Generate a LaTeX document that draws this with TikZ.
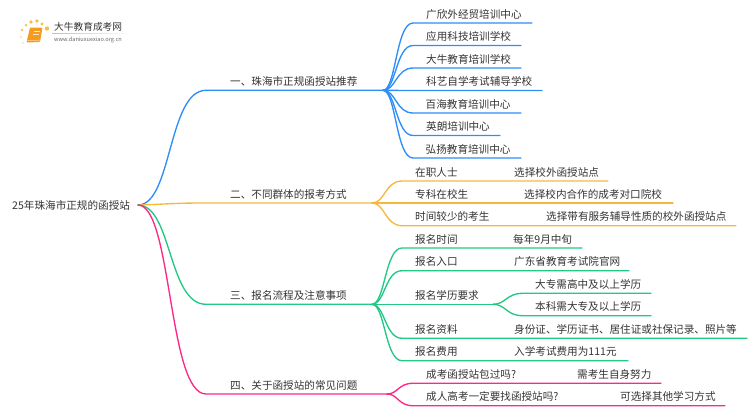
\documentclass[tikz,border=0pt]{standalone}
\usepackage{fontspec}
\setmainfont{Noto Sans CJK SC}
\usetikzlibrary{calc}
\definecolor{cblue}{HTML}{2C8EF8}
\definecolor{corange}{HTML}{F6B83C}
\definecolor{cgreen}{HTML}{22C985}
\definecolor{cpink}{HTML}{FB2A86}
\definecolor{ctext}{HTML}{333333}
\definecolor{cbook}{HTML}{F59C20}
\newcommand{\lf}[4]{\node[lab] (#1) at (#2,#3-5) {#4};}
\newcommand{\rail}[4]{\coordinate (#1L) at (#2,#4); \coordinate (#1R) at (#3,#4);}
\tikzset{
  lab/.style={anchor=base west,inner sep=0pt,text=ctext,font=\fontsize{10.6pt}{12pt}\selectfont},
  conn/.style={line width=1.35pt,line cap=round,line join=round}
}
\begin{document}
\begin{tikzpicture}[x=1pt,y=-1pt]
\useasboundingbox (0,0) rectangle (750,410);
% logo
\foreach \a/\b/\r/\c in {22/30/1.3/F8C75A,26/25/1.5/F8C75A,31/22/1.8/F7BE45,37/21/1.9/F7BE45,42/24/1.7/F7BE45,47/28.5/2.2/F7BE45,21/37/1/FAD98C,23/43/.9/FAD98C}{
  \definecolor{dd}{HTML}{\c}\fill[dd] (\a,\b) circle (\r);}
\fill[rounded corners=1pt,fill=cbook] (30,27.5) -- (42.5,27.5) -- (40,42) -- (26.5,42.5) -- cycle;
\draw[white!80!cbook,line width=.6pt] (33.5,31.5) -- (39.5,31.5) (33,34.5) -- (39,34.5);
\draw[white!60!cbook,line width=.5pt] (27.5,40.5) -- (40,40.2);
\node[anchor=base west,inner sep=0pt,text=ctext,font=\fontsize{9.7pt}{11pt}\selectfont] (logotitle) at (54,30.5) {大牛教育成考网};
\node[anchor=base west,inner sep=0pt,text=black!60,font=\fontsize{5.6pt}{7pt}\selectfont] (logourl) at (54,41) {www.daniuxuexiao.org.cn};
\shade[left color=black!25,right color=white,draw=none] (52,33) rectangle (133,33.6);
% root
\node[lab] (root) at (12,209) {25年珠海市正规的函授站};
\coordinate (o) at (138,205);
% branches
\lf{b1}{230}{90}{一、珠海市正规函授站推荐}
\lf{b2}{230}{203}{二、不同群体的报考方式}
\lf{b3}{230}{304}{三、报名流程及注意事项}
\lf{b4}{230}{394}{四、关于函授站的常见问题}
\coordinate (j1) at (383,90.3);
\coordinate (j2) at (372,203);
\coordinate (j3) at (372,304.3);
\coordinate (j4) at (387,394);
\coordinate (j5) at (493,304.3);
\draw[conn,cblue] (o) .. controls (172,205) and (168,90.3) .. (206,90.3) -- (j1);
\draw[conn,corange] (o) .. controls (172,204) and (172,203) .. (206,203) -- (j2);
\draw[conn,cgreen] (o) .. controls (172,205) and (168,304.3) .. (206,304.3) -- (j3);
\draw[conn,cpink] (o) .. controls (172,205) and (168,394) .. (206,394) -- (j4);
% leaves group 1
\lf{a1}{426}{23}{广欣外经贸培训中心}  \rail{a1}{413}{532}{23}
\lf{a2}{426}{45.5}{应用科技培训学校}  \rail{a2}{413}{521}{45.5}
\lf{a3}{426}{68}{大牛教育培训学校}    \rail{a3}{413}{521}{68}
\lf{a4}{426}{90.5}{科艺自学考试辅导学校} \rail{a4}{413}{542}{90.5}
\lf{a5}{425.5}{113}{百海教育培训中心}  \rail{a5}{413}{521}{113}
\lf{a6}{426}{135.5}{英朗培训中心}     \rail{a6}{413}{500}{135.5}
\lf{a7}{425.5}{158}{弘扬教育培训中心}  \rail{a7}{413}{521}{158}
\foreach \n in {a1,a2,a3,a4,a5,a6,a7}{
  \draw[conn,cblue] (j1) .. controls ($(j1)+(13,0)$) and ($(\n L)+(-17,0)$) .. (\n L) -- (\n R);}
% group 2
\lf{c1}{415}{181}{在职人士} \lf{c1x}{514}{181}{选择校外函授站点} \rail{c1}{402}{608}{181}
\lf{c2}{415}{203}{专科在校生} \lf{c2x}{524}{203}{选择校内合作的成考对口院校} \rail{c2}{402}{673}{203}
\lf{c3}{415}{225.7}{时间较少的考生} \lf{c3x}{546}{225.7}{选择带有服务辅导性质的校外函授站点} \rail{c3}{402}{736}{225.7}
\foreach \n in {c1,c2,c3}{
  \draw[conn,corange] (j2) .. controls ($(j2)+(13,0)$) and ($(\n L)+(-17,0)$) .. (\n L) -- (\n R);}
% group 3
\lf{d1}{415}{248}{报名时间} \lf{d1x}{513}{248}{每年9月中旬} \rail{d1}{402}{582}{248}
\lf{d2}{415}{270.7}{报名入口} \lf{d2x}{514}{270.7}{广东省教育考试院官网} \rail{d2}{402}{629}{270.7}
\lf{d3}{415}{304.3}{报名学历要求} \rail{d3}{402}{493}{304.3}
\lf{d4}{415}{338.3}{报名资料} \lf{d4x}{514}{338.3}{身份证、学历证书、居住证或社保记录、照片等} \rail{d4}{402}{747}{338.3}
\lf{d5}{415}{360.7}{报名费用} \lf{d5x}{514}{360.7}{入学考试费用为111元} \rail{d5}{402}{628}{360.7}
\foreach \n in {d1,d2,d3,d4,d5}{
  \draw[conn,cgreen] (j3) .. controls ($(j3)+(13,0)$) and ($(\n L)+(-17,0)$) .. (\n L) -- (\n R);}
\lf{e1}{535}{293.3}{大专需高中及以上学历} \rail{e1}{523}{651}{293.3}
\lf{e2}{535}{315.7}{本科需大专及以上学历} \rail{e2}{523}{651}{315.7}
\foreach \n in {e1,e2}{
  \draw[conn,cgreen] (j5) .. controls ($(j5)+(13,0)$) and ($(\n L)+(-17,0)$) .. (\n L) -- (\n R);}
% group 4
\lf{f1}{426}{383.3}{成考函授站包过吗?} \lf{f1x}{577}{383.3}{需考生自身努力} \rail{f1}{413}{661}{383.3}
\lf{f2}{426}{405.7}{成人高考一定要找函授站吗?} \lf{f2x}{620}{405.7}{可选择其他学习方式} \rail{f2}{413}{725}{405.7}
\foreach \n in {f1,f2}{
  \draw[conn,cpink] (j4) .. controls ($(j4)+(11,0)$) and ($(\n L)+(-15,0)$) .. (\n L) -- (\n R);}
\end{tikzpicture}
\end{document}
